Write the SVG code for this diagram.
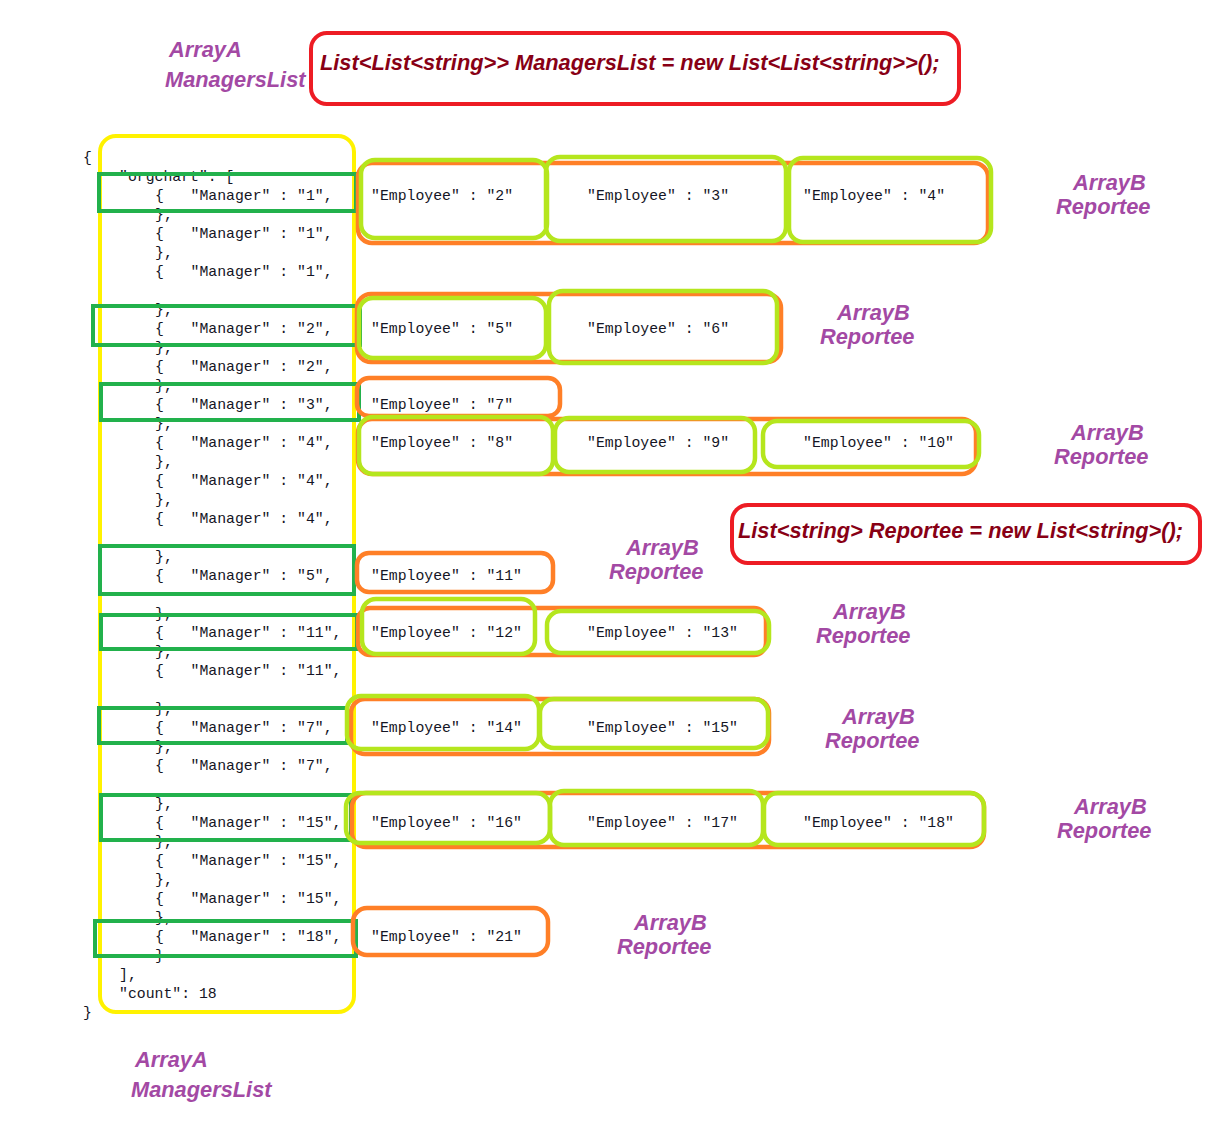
<svg xmlns="http://www.w3.org/2000/svg" width="1232" height="1142" viewBox="0 0 1232 1142">
<style>
.code{font-family:"Liberation Mono","DejaVu Sans Mono",monospace;font-size:14.8px;fill:#151525;white-space:pre}
.lbl{font-family:"Liberation Sans",Arial,sans-serif;font-weight:bold;font-style:italic;font-size:21.8px;fill:#A349A4}
.decl{font-family:"Liberation Sans",Arial,sans-serif;font-weight:bold;font-style:italic;font-size:21.8px;fill:#880015}
.mgr{fill:none;stroke:#22B14C;stroke-width:4}
.org{fill:none;stroke:#FF7F27;stroke-width:4.5}
.emp{fill:none;stroke:#B5E61D;stroke-width:4.5}
.red{fill:none;stroke:#ED1C24;stroke-width:4}
.yel{fill:none;stroke:#FFF200;stroke-width:4}
</style>
<rect width="1232" height="1142" fill="#fff"/>

<g id="managers-list-decl">
<rect class="red" x="311" y="33" width="648" height="71" rx="16"/>
<text class="decl" x="320" y="70">List&lt;List&lt;string&gt;&gt; ManagersList = new List&lt;List&lt;string&gt;&gt;();</text>
</g>
<g id="label-arrayA-top">
<text class="lbl" x="169" y="57">ArrayA</text>
<text class="lbl" x="165" y="87">ManagersList</text>
</g>

<g id="json-code">
<rect class="yel" x="100" y="136" width="254" height="876" rx="16"/>
<text class="code" xml:space="preserve" x="83" y="162">{</text>
<text class="code" xml:space="preserve" x="119" y="181">"orgchart": [</text>
<text class="code" xml:space="preserve" x="155" y="200">{   "Manager" : "1",</text>
<text class="code" xml:space="preserve" x="155" y="219">},</text>
<text class="code" xml:space="preserve" x="155" y="238">{   "Manager" : "1",</text>
<text class="code" xml:space="preserve" x="155" y="257">},</text>
<text class="code" xml:space="preserve" x="155" y="276">{   "Manager" : "1",</text>
<text class="code" xml:space="preserve" x="155" y="314">},</text>
<text class="code" xml:space="preserve" x="155" y="333">{   "Manager" : "2",</text>
<text class="code" xml:space="preserve" x="155" y="352">},</text>
<text class="code" xml:space="preserve" x="155" y="371">{   "Manager" : "2",</text>
<text class="code" xml:space="preserve" x="155" y="390">},</text>
<text class="code" xml:space="preserve" x="155" y="409">{   "Manager" : "3",</text>
<text class="code" xml:space="preserve" x="155" y="428">},</text>
<text class="code" xml:space="preserve" x="155" y="447">{   "Manager" : "4",</text>
<text class="code" xml:space="preserve" x="155" y="466">},</text>
<text class="code" xml:space="preserve" x="155" y="485">{   "Manager" : "4",</text>
<text class="code" xml:space="preserve" x="155" y="504">},</text>
<text class="code" xml:space="preserve" x="155" y="523">{   "Manager" : "4",</text>
<text class="code" xml:space="preserve" x="155" y="561">},</text>
<text class="code" xml:space="preserve" x="155" y="580">{   "Manager" : "5",</text>
<text class="code" xml:space="preserve" x="155" y="618">},</text>
<text class="code" xml:space="preserve" x="155" y="637">{   "Manager" : "11",</text>
<text class="code" xml:space="preserve" x="155" y="656">},</text>
<text class="code" xml:space="preserve" x="155" y="675">{   "Manager" : "11",</text>
<text class="code" xml:space="preserve" x="155" y="713">},</text>
<text class="code" xml:space="preserve" x="155" y="732">{   "Manager" : "7",</text>
<text class="code" xml:space="preserve" x="155" y="751">},</text>
<text class="code" xml:space="preserve" x="155" y="770">{   "Manager" : "7",</text>
<text class="code" xml:space="preserve" x="155" y="808">},</text>
<text class="code" xml:space="preserve" x="155" y="827">{   "Manager" : "15",</text>
<text class="code" xml:space="preserve" x="155" y="846">},</text>
<text class="code" xml:space="preserve" x="155" y="865">{   "Manager" : "15",</text>
<text class="code" xml:space="preserve" x="155" y="884">},</text>
<text class="code" xml:space="preserve" x="155" y="903">{   "Manager" : "15",</text>
<text class="code" xml:space="preserve" x="155" y="922">},</text>
<text class="code" xml:space="preserve" x="155" y="941">{   "Manager" : "18",</text>
<text class="code" xml:space="preserve" x="155" y="960">}</text>
<text class="code" xml:space="preserve" x="119" y="979">],</text>
<text class="code" xml:space="preserve" x="119" y="998">"count": 18</text>
<text class="code" xml:space="preserve" x="83" y="1017">}</text>
</g>

<g id="manager-boxes">
<rect id="mgr-1" class="mgr" x="99" y="174" width="257" height="37"/>
<rect id="mgr-2" class="mgr" x="93" y="306" width="267" height="39"/>
<rect id="mgr-3" class="mgr" x="101" y="384" width="258" height="36"/>
<rect id="mgr-5" class="mgr" x="100" y="546" width="254" height="48"/>
<rect id="mgr-11" class="mgr" x="101" y="615" width="256" height="34"/>
<rect id="mgr-7" class="mgr" x="99" y="708" width="248" height="35"/>
<rect id="mgr-15" class="mgr" x="101" y="795" width="250" height="45"/>
<rect id="mgr-18" class="mgr" x="95" y="921" width="261" height="35"/>
</g>

<g id="reportee-row-1">
<rect class="org" x="358" y="163" width="630" height="80" rx="14"/>
<rect class="emp" x="361" y="160" width="186" height="78" rx="14"/>
<rect class="emp" x="546" y="157" width="240" height="84" rx="14"/>
<rect class="emp" x="789" y="158" width="202" height="84" rx="14"/>
<text class="code" x="371" y="200">"Employee" : "2"</text>
<text class="code" x="587" y="200">"Employee" : "3"</text>
<text class="code" x="803" y="200">"Employee" : "4"</text>
</g>
<g id="reportee-row-2">
<rect class="org" x="357" y="294" width="424" height="68" rx="14"/>
<rect class="emp" x="359" y="298" width="187" height="60" rx="14"/>
<rect class="emp" x="549" y="291" width="228" height="72" rx="14"/>
<text class="code" x="371" y="333">"Employee" : "5"</text>
<text class="code" x="587" y="333">"Employee" : "6"</text>
</g>
<g id="reportee-row-3">
<rect class="org" x="357" y="378" width="203" height="38" rx="12"/>
<text class="code" x="371" y="409">"Employee" : "7"</text>
</g>
<g id="reportee-row-4">
<rect class="org" x="358" y="419" width="618" height="55" rx="14"/>
<rect class="emp" x="359" y="417" width="194" height="57" rx="14"/>
<rect class="emp" x="555" y="418" width="200" height="54" rx="14"/>
<rect class="emp" x="763" y="421" width="216" height="46" rx="14"/>
<text class="code" x="371" y="447">"Employee" : "8"</text>
<text class="code" x="587" y="447">"Employee" : "9"</text>
<text class="code" x="803" y="447">"Employee" : "10"</text>
</g>
<g id="reportee-row-5">
<rect class="org" x="357" y="553" width="196" height="39" rx="12"/>
<text class="code" x="371" y="580">"Employee" : "11"</text>
</g>
<g id="reportee-row-6">
<rect class="org" x="358" y="608" width="408" height="47" rx="12"/>
<rect class="emp" x="362" y="599" width="173" height="55" rx="14"/>
<rect class="emp" x="547" y="611" width="222" height="42" rx="14"/>
<text class="code" x="371" y="637">"Employee" : "12"</text>
<text class="code" x="587" y="637">"Employee" : "13"</text>
</g>
<g id="reportee-row-7">
<rect class="org" x="351" y="699" width="418" height="55" rx="14"/>
<rect class="emp" x="347" y="696" width="192" height="53" rx="14"/>
<rect class="emp" x="540" y="699" width="228" height="49" rx="14"/>
<text class="code" x="371" y="732">"Employee" : "14"</text>
<text class="code" x="587" y="732">"Employee" : "15"</text>
</g>
<g id="reportee-row-8">
<rect class="org" x="352" y="793" width="632" height="54" rx="14"/>
<rect class="emp" x="346" y="793" width="204" height="50" rx="14"/>
<rect class="emp" x="550" y="791" width="213" height="54" rx="14"/>
<rect class="emp" x="764" y="793" width="220" height="52" rx="14"/>
<text class="code" x="371" y="827">"Employee" : "16"</text>
<text class="code" x="587" y="827">"Employee" : "17"</text>
<text class="code" x="803" y="827">"Employee" : "18"</text>
</g>
<g id="reportee-row-9">
<rect class="org" x="353" y="908" width="195" height="47" rx="14"/>
<text class="code" x="371" y="941">"Employee" : "21"</text>
</g>

<g id="reportee-decl">
<rect class="red" x="732" y="505" width="468" height="58" rx="16"/>
<text class="decl" x="738" y="538">List&lt;string&gt; Reportee = new List&lt;string&gt;();</text>
</g>

<g id="labels-arrayB">
<text class="lbl" x="1073" y="190">ArrayB</text><text class="lbl" x="1056" y="214">Reportee</text>
<text class="lbl" x="837" y="320">ArrayB</text><text class="lbl" x="820" y="344">Reportee</text>
<text class="lbl" x="1071" y="440">ArrayB</text><text class="lbl" x="1054" y="464">Reportee</text>
<text class="lbl" x="626" y="555">ArrayB</text><text class="lbl" x="609" y="579">Reportee</text>
<text class="lbl" x="833" y="619">ArrayB</text><text class="lbl" x="816" y="643">Reportee</text>
<text class="lbl" x="842" y="724">ArrayB</text><text class="lbl" x="825" y="748">Reportee</text>
<text class="lbl" x="1074" y="814">ArrayB</text><text class="lbl" x="1057" y="838">Reportee</text>
<text class="lbl" x="634" y="930">ArrayB</text><text class="lbl" x="617" y="954">Reportee</text>
</g>

<g id="label-arrayA-bottom">
<text class="lbl" x="135" y="1067">ArrayA</text>
<text class="lbl" x="131" y="1097">ManagersList</text>
</g>

<g id="connectors"></g>
</svg>
